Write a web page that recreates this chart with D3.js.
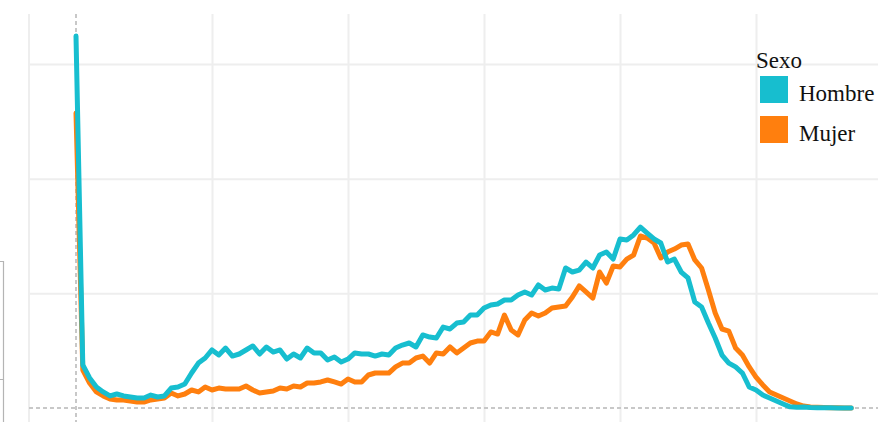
<!DOCTYPE html>
<html>
<head>
<meta charset="utf-8">
<script src="https://cdn.jsdelivr.net/npm/d3@7/dist/d3.min.js"></script>
<style>
  html, body { margin: 0; padding: 0; background: #fff; }
  svg { display: block; }
</style>
</head>
<body>
<svg id="chart" width="878" height="422"></svg>
<script>
// Deaths by single year of age, by sex
const ages = d3.range(0, 115);

const hombre = [
  3244, 375, 262, 183, 140, 105, 122, 105, 96, 87,
  87, 113, 96, 105, 174, 183, 209, 305, 392, 436,
  506, 462, 523, 453, 471, 506, 541, 471, 532, 488,
  506, 427, 471, 436, 523, 480, 480, 419, 445, 401,
  427, 480, 471, 471, 453, 471, 462, 523, 549, 567,
  532, 637, 619, 610, 706, 689, 741, 750, 811, 811,
  872, 898, 907, 942, 942, 985, 1012, 985, 1073, 1029,
  1046, 1038, 1221, 1186, 1203, 1273, 1221, 1334, 1360, 1299,
  1474, 1465, 1509, 1578, 1526, 1474, 1439, 1273, 1299, 1186,
  1134, 924, 881, 741, 610, 462, 392, 358, 305, 183,
  157, 113, 87, 61, 35, 10, 6, 8, 4, 3,
  2, 2, 1, 1, 1
];

const mujer = [
  2572, 331, 218, 140, 105, 78, 70, 70, 61, 52,
  52, 70, 78, 87, 131, 105, 122, 157, 140, 183,
  157, 174, 166, 166, 166, 192, 157, 131, 140, 148,
  174, 166, 192, 183, 218, 218, 227, 244, 227, 209,
  253, 227, 227, 288, 305, 305, 305, 358, 392, 392,
  436, 453, 392, 480, 471, 532, 480, 523, 567, 584,
  584, 663, 645, 811, 680, 637, 767, 828, 802, 828,
  872, 881, 889, 968, 1064, 1012, 959, 1186, 1090, 1238,
  1230, 1299, 1334, 1500, 1482, 1439, 1308, 1360, 1386, 1421,
  1430, 1291, 1221, 1029, 828, 689, 671, 523, 462, 358,
  270, 201, 140, 113, 87, 61, 35, 17, 9, 6,
  4, 3, 2, 1, 1
];

const seriesNames = ["Hombre", "Mujer"];
const seriesColors = ["#17becf", "#ff7f0e"];
const legendTitle = "Sexo";
const xGridTicks = [20, 40, 60, 80, 100];
const yGridTicks = [1000, 2000, 3000];

const svg = d3.select("#chart");
const W = 878, H = 422;
const panel = { left: 29, top: 14, right: W, bottom: H };

const x = d3.scaleLinear().domain([0, 100]).range([76, 756]);
const y = d3.scaleLinear().domain([0, 3000]).range([408, 64]);

// Background grid
const grid = svg.append("g").attr("class", "grid");

grid.append("g")
  .attr("transform", `translate(0,${panel.top})`)
  .call(d3.axisBottom(x).tickValues(xGridTicks)
    .tickSize(panel.bottom - panel.top).tickFormat(""))
  .call(g => g.select(".domain").remove())
  .call(g => g.selectAll("line").attr("stroke", "#eeeeee").attr("stroke-width", 2));

grid.append("g")
  .attr("transform", `translate(${panel.left},0)`)
  .call(d3.axisRight(y).tickValues(yGridTicks)
    .tickSize(panel.right - panel.left).tickFormat(""))
  .call(g => g.select(".domain").remove())
  .call(g => g.selectAll("line").attr("stroke", "#eeeeee").attr("stroke-width", 2));

// Panel left edge
grid.append("line")
  .attr("x1", panel.left).attr("x2", panel.left)
  .attr("y1", panel.top).attr("y2", panel.bottom)
  .attr("stroke", "#eeeeee").attr("stroke-width", 2);

// Zero lines
svg.append("line")
  .attr("x1", x(0)).attr("x2", x(0))
  .attr("y1", panel.top).attr("y2", panel.bottom)
  .attr("stroke", "#c8c8c8").attr("stroke-width", 2)
  .attr("stroke-dasharray", "4,3");
svg.append("line")
  .attr("x1", panel.left).attr("x2", panel.right)
  .attr("y1", y(0)).attr("y2", y(0))
  .attr("stroke", "#c8c8c8").attr("stroke-width", 2)
  .attr("stroke-dasharray", "4,3");

// Frame fragment at the far left
svg.append("path")
  .attr("d", "M0,261.5H3.5V422M0,379.5H3.5")
  .attr("fill", "none").attr("stroke", "#b4b4b4").attr("stroke-width", 1.2);

// Lines
const line = d3.line()
  .x((d, i) => x(ages[i]))
  .y(d => y(d));

const values = [hombre, mujer];
// women first so the men's line sits on top
[1, 0].forEach(k => {
  svg.append("path")
    .datum(values[k])
    .attr("fill", "none")
    .attr("stroke", seriesColors[k])
    .attr("stroke-width", 5)
    .attr("stroke-linejoin", "round")
    .attr("stroke-linecap", "round")
    .attr("d", line);
});

// Legend
const legend = svg.append("g")
  .attr("font-family", "'Liberation Serif', 'Times New Roman', serif")
  .attr("font-size", 23)
  .attr("fill", "#111");

legend.append("text").attr("x", 756).attr("y", 68).text(legendTitle);

seriesNames.forEach((name, i) => {
  const top = 76 + i * 40;
  legend.append("rect")
    .attr("x", 760).attr("y", top)
    .attr("width", 28).attr("height", 27)
    .attr("fill", seriesColors[i]);
  legend.append("text")
    .attr("x", 799).attr("y", top + 25)
    .text(name);
});
</script>
</body>
</html>
